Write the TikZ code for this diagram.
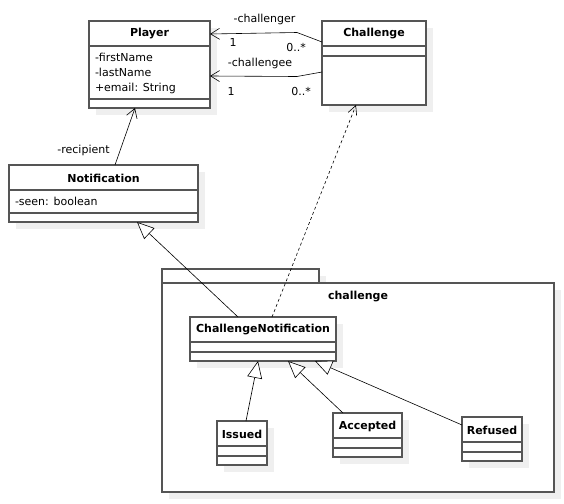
\documentclass[tikz,border=0pt]{standalone}
\usepackage{fontspec}
\setmainfont{DejaVu Sans}
\usetikzlibrary{arrows.meta}
\definecolor{boxline}{HTML}{555555}
\definecolor{shadowgray}{HTML}{EFEFEF}
\tikzset{
  every node/.style={font=\fontsize{11}{13}\selectfont, inner sep=0pt, outer sep=0pt},
  umlbox/.style={draw=boxline, line width=1.3pt, fill=white, anchor=north west},
  sepline/.style={draw=boxline, line width=1.3pt},
  dropshadow/.style={fill=shadowgray},
  ctitle/.style={font=\fontsize{11}{13}\selectfont\bfseries},
  attr/.style={anchor=west},
  assoc/.style={draw=black, line width=0.6pt, -{Straight Barb[length=9pt,width=11pt]}},
  depend/.style={draw=black, line width=0.6pt, dash pattern=on 3pt off 2.5pt, -{Straight Barb[length=9pt,width=9pt]}},
  gen/.style={draw=black, line width=0.6pt, -{Triangle[open,length=17pt,width=15pt,fill=white]}},
}
\newcommand\umlclass[7]{%
  \path[dropshadow] (#2+7,#3+7) rectangle ++(#4,#5);
  \node[umlbox, minimum width=#4pt, minimum height=#5pt] (#1) at (#2,#3) {};
  \draw[sepline] (#2,#6) -- ++(#4,0);
  \draw[sepline] (#2,#7) -- ++(#4,0);
}
\begin{document}
\begin{tikzpicture}[x=1pt,y=-1pt]
\useasboundingbox[fill=white] (0,0) rectangle (564,503);
% package
\path[dropshadow] (162+7,269+7) rectangle (319+7,283);
\path[dropshadow] (162+7,283+7) rectangle (554+7,492+7);
\node[umlbox, minimum width=157pt, minimum height=14pt] (pkgtab) at (162,269) {};
\node[umlbox, minimum width=392pt, minimum height=209pt] (pkg) at (162,283) {};
\node[ctitle] (pkgT) at (358,297) {challenge};
% classes
\umlclass{player}{89}{21}{121}{87}{46}{99}
\node[ctitle] (playerT) at (149.5,33.5) {Player};
\node[attr] (pa1) at (95,57.5) {-firstName};
\node[attr] (pa2) at (95,72.5) {-lastName};
\node[attr] (pa3) at (95,88) {+email: String};
\umlclass{challenge}{322}{21}{104}{84}{46}{56}
\node[ctitle] (challengeT) at (374,33.5) {Challenge};
\umlclass{notification}{9}{165}{189}{57}{190}{213}
\node[ctitle] (notificationT) at (103.5,178) {Notification};
\node[attr] (na1) at (15,201) {-seen: boolean};
\umlclass{cn}{190}{317}{146}{44}{342}{352}
\node[ctitle] (cnT) at (263,330) {ChallengeNotification};
\umlclass{issued}{217}{421}{50}{44}{446}{456}
\node[ctitle] (issuedT) at (242,434) {Issued};
\umlclass{accepted}{333}{413}{69}{44}{438}{448}
\node[ctitle] (acceptedT) at (367.5,426) {Accepted};
\umlclass{refused}{462}{417}{60}{44}{442}{452}
\node[ctitle] (refusedT) at (492,430) {Refused};
% associations
\draw[assoc] (challenge.west |- 0,42) -- (297,32.5) -- (player.east |- 0,34);
\draw[assoc] (challenge.west |- 0,72) -- (297,76.5) -- (player.east |- 0,76);
\node (l1) at (264.5,19) {-challenger};
\node (l2) at (233,42) {1};
\node (l3) at (296,47) {0..*};
\node (l4) at (260,63) {-challengee};
\node (l5) at (231,91) {1};
\node (l6) at (301,91) {0..*};
\draw[assoc] (notification.north -| 115,0) -- (player.south -| 135,0);
\node (l7) at (83.5,150) {-recipient};
% dependency
\draw[depend] (cn.north -| 272,0) -- (challenge.south -| 356,0);
% generalizations
\draw[gen] (cn.north -| 238,0) -- (notification.south -| 137,0);
\draw[gen] (issued.north -| 246,0) -- (cn.south -| 258,0);
\draw[gen] (accepted.north -| 343,0) -- (cn.south -| 288,0);
\draw[gen] (refused.west |- 0,425) -- (cn.south -| 315,0);
\end{tikzpicture}
\end{document}
